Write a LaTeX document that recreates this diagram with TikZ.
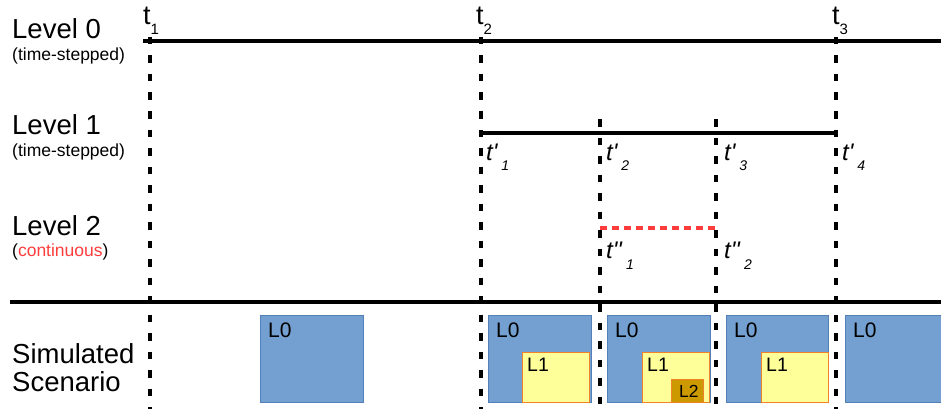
\documentclass[tikz,border=0pt]{standalone}
\usepackage{fontspec}
\setmainfont{Liberation Sans}
\definecolor{boxblue}{RGB}{115,160,208}
\definecolor{boxblueline}{RGB}{84,128,185}
\definecolor{boxyellow}{RGB}{255,255,153}
\definecolor{boxorange}{RGB}{240,130,40}
\definecolor{boxgold}{RGB}{204,153,0}
\definecolor{redline}{RGB}{255,60,60}
\begin{document}
\begin{tikzpicture}[x=1pt,y=-1pt,
  vdash/.style={line width=4pt, dash pattern=on 7.5pt off 11pt},
  tline/.style={line width=4pt},
  rdash/.style={line width=4pt, draw=redline, dash pattern=on 7pt off 5pt},
  lvl/.style={anchor=base west, inner sep=0pt, font=\fontsize{27.5}{27.5}\selectfont},
  lsub/.style={anchor=base west, inner sep=0pt, font=\fontsize{17.5}{17.5}\selectfont},
  tlab/.style={anchor=base west, inner sep=0pt, font=\fontsize{27}{27}\selectfont},
  tplab/.style={anchor=base west, inner sep=0pt, font=\fontsize{24}{24}\selectfont\itshape},
  bxzero/.style={anchor=north west, draw=boxblueline, fill=boxblue, line width=0.8pt, inner sep=0pt},
  bxone/.style={anchor=north west, draw=boxorange, fill=boxyellow, line width=1pt, inner sep=0pt},
  bxtwo/.style={anchor=north west, draw=boxorange, fill=boxgold, line width=1pt, inner sep=0pt},
  ltxt/.style={anchor=north west, inner sep=0pt, font=\fontsize{21}{21}\selectfont},
  ltxts/.style={anchor=north west, inner sep=0pt, font=\fontsize{19.5}{19.5}\selectfont},
  ltxtt/.style={anchor=north west, inner sep=0pt, font=\fontsize{17.5}{17.5}\selectfont},
]
\useasboundingbox (0,0) rectangle (941,409);

% vertical dashed time markers
\coordinate (t1a) at (150,37);  \coordinate (t1b) at (150,412);
\coordinate (t2a) at (481,37);  \coordinate (t2b) at (481,412);
\coordinate (t3a) at (836,37);  \coordinate (t3b) at (836,412);
\coordinate (tp2a) at (600,119); \coordinate (tp2b) at (600,412);
\coordinate (tp3a) at (716,119); \coordinate (tp3b) at (716,412);
\draw[vdash] (t1a) -- (t1b);
\draw[vdash] (t2a) -- (t2b);
\draw[vdash] (t3a) -- (t3b);
\draw[vdash] (tp2a) -- (tp2b);
\draw[vdash] (tp3a) -- (tp3b);

% horizontal level lines
\coordinate (l0a) at (143,41);  \coordinate (l0b) at (945,41);
\coordinate (l1a) at (479,132.5); \coordinate (l1b) at (838,132.5);
\coordinate (l2a) at (600,228); \coordinate (l2b) at (716,228);
\coordinate (sa) at (10,301.5); \coordinate (sb) at (945,301.5);
\draw[tline] (l0a) -- (l0b);
\draw[tline] (l1a) -- (l1b);
\draw[rdash] (l2a) -- (l2b);
\draw[tline] (sa) -- (sb);

% left labels
\node[lvl] (lev0) at (12,39) {Level 0};
\node[lsub] (lev0s) at (12,61) {(time-stepped)};
\node[lvl] (lev1) at (12,135) {Level 1};
\node[lsub] (lev1s) at (12,156) {(time-stepped)};
\node[lvl] (lev2) at (12,235) {Level 2};
\node[lsub] (lev2s) at (12,256) {(\textcolor{redline}{continuous})};
\node[lvl] (sim1) at (12,363) {Simulated};
\node[lvl] (sim2) at (12,391) {Scenario};

% time labels level 0
\node[tlab] (lt1) at (143,25) {t\raisebox{-10pt}{\fontsize{15}{15}\selectfont 1}};
\node[tlab] (lt2) at (476,25) {t\raisebox{-10pt}{\fontsize{15}{15}\selectfont 2}};
\node[tlab] (lt3) at (832,25) {t\raisebox{-10pt}{\fontsize{15}{15}\selectfont 3}};

% time labels level 1
\node[tplab] (ltp1) at (486,160) {t\textquotesingle\,\raisebox{-10pt}{\fontsize{14}{14}\selectfont 1}};
\node[tplab] (ltp2) at (606,160) {t\textquotesingle\,\raisebox{-10pt}{\fontsize{14}{14}\selectfont 2}};
\node[tplab] (ltp3) at (724,160) {t\textquotesingle\,\raisebox{-10pt}{\fontsize{14}{14}\selectfont 3}};
\node[tplab] (ltp4) at (842,160) {t\textquotesingle\,\raisebox{-10pt}{\fontsize{14}{14}\selectfont 4}};

% time labels level 2
\node[tplab] (ltpp1) at (606,258) {t\textquotesingle\textquotesingle\,\raisebox{-11pt}{\fontsize{14}{14}\selectfont 1}};
\node[tplab] (ltpp2) at (724,258) {t\textquotesingle\textquotesingle\,\raisebox{-11pt}{\fontsize{14}{14}\selectfont 2}};

% simulated scenario boxes
\node[bxzero, minimum width=103pt, minimum height=87pt] (b1) at (260,315) {};
\node[ltxt] at ([xshift=8pt,yshift=-8pt]b1.north west) {L0};

\node[bxzero, minimum width=103pt, minimum height=87pt] (b2) at (488,315) {};
\node[ltxt] at ([xshift=8pt,yshift=-8pt]b2.north west) {L0};
\node[bxone, minimum width=67pt, minimum height=50pt] (c2) at (522,352) {};
\node[ltxts] at ([xshift=5pt,yshift=-6pt]c2.north west) {L1};

\node[bxzero, minimum width=103pt, minimum height=87pt] (b3) at (607,315) {};
\node[ltxt] at ([xshift=8pt,yshift=-8pt]b3.north west) {L0};
\node[bxone, minimum width=67pt, minimum height=50pt] (c3) at (642,352) {};
\node[ltxts] at ([xshift=5pt,yshift=-6pt]c3.north west) {L1};
\node[bxtwo, minimum width=32pt, minimum height=23pt] (d3) at (671,379) {};
\node[ltxtt] at ([xshift=8pt,yshift=-6pt]d3.north west) {L2};

\node[bxzero, minimum width=102pt, minimum height=87pt] (b4) at (726,315) {};
\node[ltxt] at ([xshift=8pt,yshift=-8pt]b4.north west) {L0};
\node[bxone, minimum width=67pt, minimum height=50pt] (c4) at (761,352) {};
\node[ltxts] at ([xshift=5pt,yshift=-6pt]c4.north west) {L1};

\node[bxzero, minimum width=102pt, minimum height=87pt] (b5) at (845,315) {};
\node[ltxt] at ([xshift=8pt,yshift=-8pt]b5.north west) {L0};
\end{tikzpicture}
\end{document}
